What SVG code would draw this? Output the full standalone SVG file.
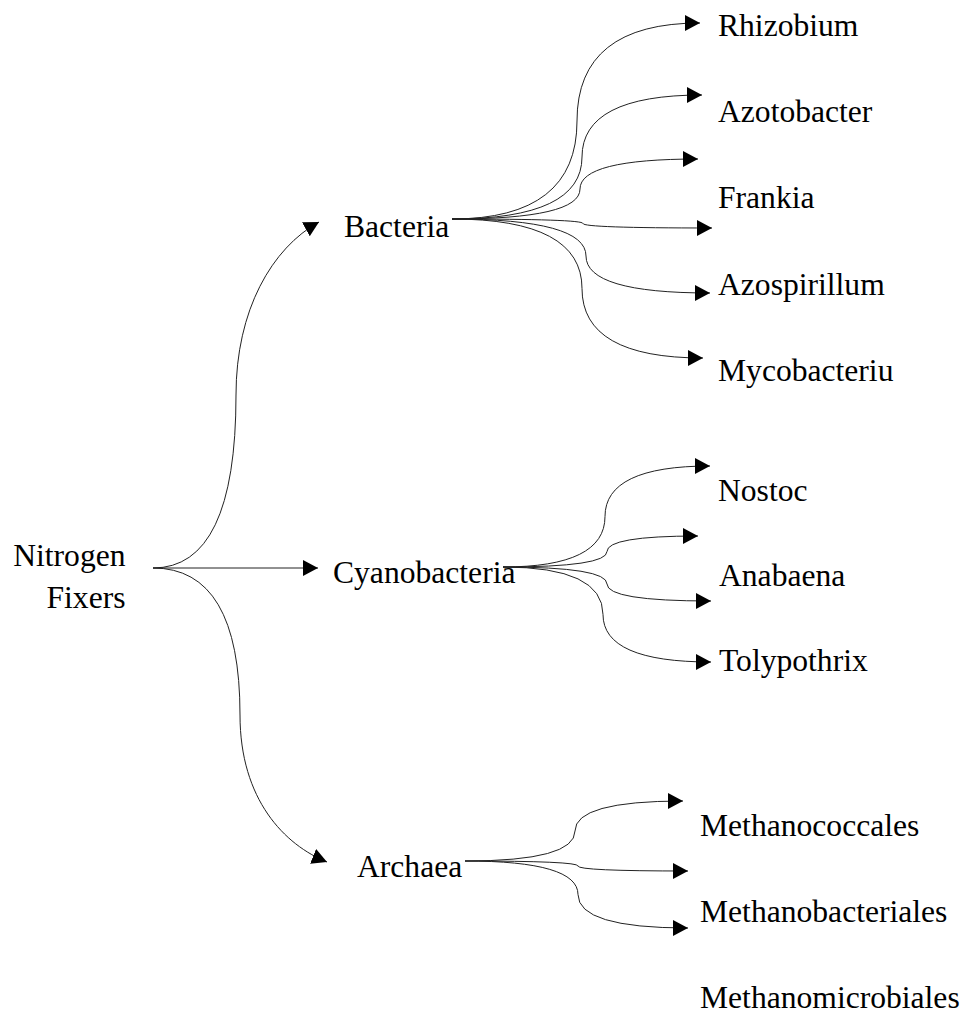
<svg xmlns="http://www.w3.org/2000/svg" width="962" height="1014" viewBox="0 0 962 1014">
<style>
.lbl{font-family:"Liberation Serif","Times New Roman",serif;font-size:31.6px;fill:#000}
.link{fill:none;stroke:#222;stroke-width:1;marker-end:url(#arrow)}
</style>
<defs>
<marker id="arrow" markerUnits="userSpaceOnUse" markerWidth="15" markerHeight="16" refX="15" refY="8" orient="auto" viewBox="0 0 15 16">
<path d="M0,0 L15,8 L0,16 z" fill="#000"/>
</marker>
</defs>
<rect width="962" height="1014" fill="#fff"/>
<g id="connectors">
<path class="link" d="M153,568 Q236,568 236,395 C236,310 272,248 319,222"/>
<path class="link" d="M153,568 L318,568"/>
<path class="link" d="M153,568 Q240,568 240,715 C240,800 285,845 327,862"/>
<path class="link" d="M452,219 Q577,219 577,121 Q577,23 700,23"/>
<path class="link" d="M452,219 Q582,219 582,157 Q582,95 702,95"/>
<path class="link" d="M452,219 Q580,219 580,189 Q580,159 698,159"/>
<path class="link" d="M452,219 Q583,219 583,223.5 Q583,228 712,228"/>
<path class="link" d="M452,219 Q586,219 586,256 Q586,293 710,293"/>
<path class="link" d="M452,219 Q582,219 582,288.5 Q582,358 703,358"/>
<path class="link" d="M503,567 Q605,567 605,516.5 Q605,466 710,466"/>
<path class="link" d="M503,567 Q607,567 607,551.5 Q607,536 698,536"/>
<path class="link" d="M503,567 Q607,567 607,584 Q607,601 711,601"/>
<path class="link" d="M503,567 Q603,567 603,614.5 Q603,662 711,662"/>
<path class="link" d="M465,861 Q575,861 575,831 Q575,801 683,801"/>
<path class="link" d="M465,861 Q578,861 578,866 Q578,871 688,871"/>
<path class="link" d="M465,861 Q578,861 578,894.5 Q578,928 688,928"/>
</g>
<g id="node-root"><text class="lbl" x="125.5" y="566" text-anchor="end">Nitrogen</text><text class="lbl" x="125.5" y="608" text-anchor="end">Fixers</text></g>
<g id="node-bacteria"><text class="lbl" x="344" y="237">Bacteria</text></g>
<g id="node-cyanobacteria"><text class="lbl" x="333" y="583">Cyanobacteria</text></g>
<g id="node-archaea"><text class="lbl" x="357" y="877">Archaea</text></g>
<g id="node-rhizobium"><text class="lbl" x="718" y="36">Rhizobium</text></g>
<g id="node-azotobacter"><text class="lbl" x="718" y="122">Azotobacter</text></g>
<g id="node-frankia"><text class="lbl" x="718" y="208">Frankia</text></g>
<g id="node-azospirillum"><text class="lbl" x="718" y="295">Azospirillum</text></g>
<g id="node-mycobacteriu"><text class="lbl" x="718" y="381">Mycobacteriu</text></g>
<g id="node-nostoc"><text class="lbl" x="718" y="501">Nostoc</text></g>
<g id="node-anabaena"><text class="lbl" x="719" y="586">Anabaena</text></g>
<g id="node-tolypothrix"><text class="lbl" x="719" y="671">Tolypothrix</text></g>
<g id="node-methanococcales"><text class="lbl" x="700" y="836">Methanococcales</text></g>
<g id="node-methanobacteriales"><text class="lbl" x="700" y="922">Methanobacteriales</text></g>
<g id="node-methanomicrobiales"><text class="lbl" x="700" y="1008">Methanomicrobiales</text></g>
</svg>
